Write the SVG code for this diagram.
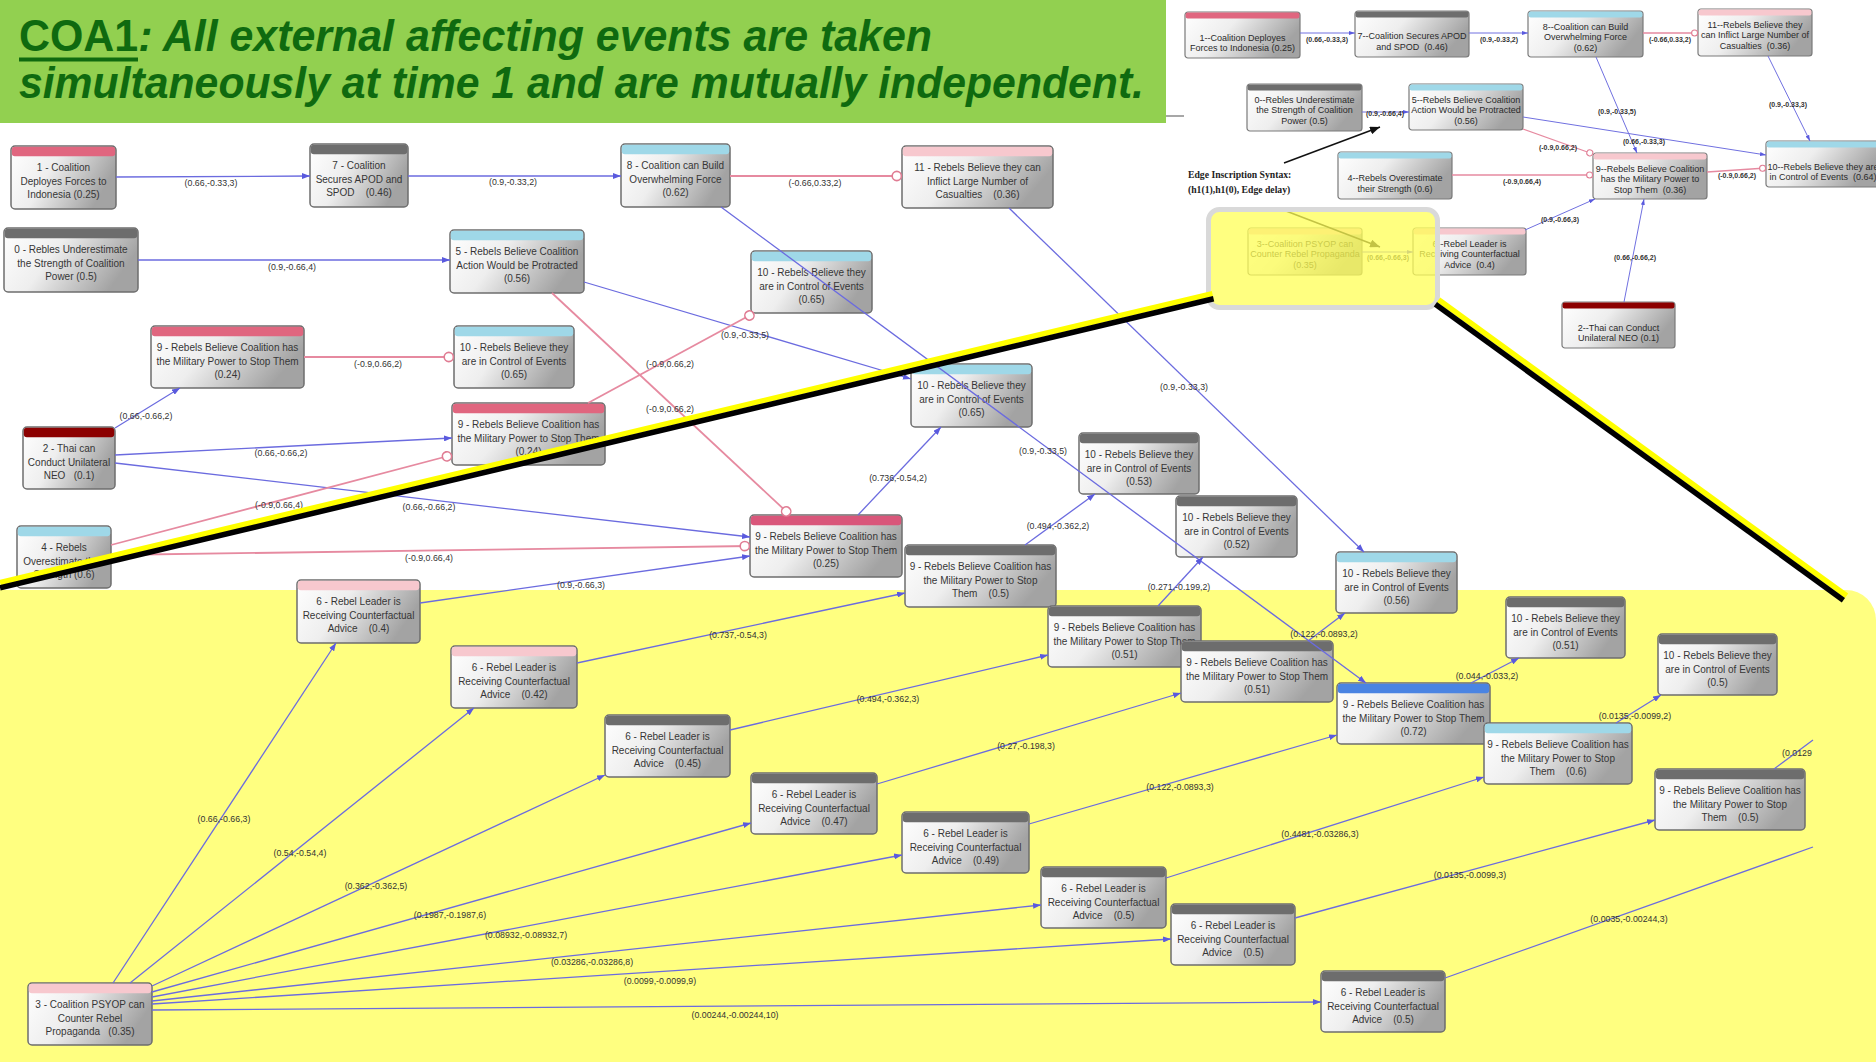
<svg xmlns="http://www.w3.org/2000/svg" width="1876" height="1062" viewBox="0 0 1876 1062">
<defs>
<linearGradient id="ng" x1="0" y1="0" x2="1" y2="0.35">
<stop offset="0" stop-color="#ffffff"/><stop offset="0.45" stop-color="#eeeeee"/><stop offset="1" stop-color="#a3a3a3"/>
</linearGradient>
<marker id="ar" viewBox="0 0 8 6" refX="8" refY="3" markerWidth="8" markerHeight="6" markerUnits="userSpaceOnUse" orient="auto"><path d="M0,0L8,3L0,6z" fill="#5a5ade"/></marker>
<marker id="ci" viewBox="0 0 12 12" refX="11.2" refY="6" markerWidth="12" markerHeight="12" markerUnits="userSpaceOnUse" orient="auto"><circle cx="6" cy="6" r="4.6" fill="#fff" stroke="#e07c93" stroke-width="1.6"/></marker>
<marker id="ars" viewBox="0 0 6 4" refX="6" refY="2" markerWidth="6" markerHeight="4" markerUnits="userSpaceOnUse" orient="auto"><path d="M0,0L6,2L0,4z" fill="#5a5ade"/></marker>
<marker id="cis" viewBox="0 0 8 8" refX="7.4" refY="4" markerWidth="8" markerHeight="8" markerUnits="userSpaceOnUse" orient="auto"><circle cx="4" cy="4" r="3" fill="#fff" stroke="#e07c93" stroke-width="1.1"/></marker>
<marker id="ak" viewBox="0 0 10 8" refX="10" refY="4" markerWidth="10" markerHeight="8" markerUnits="userSpaceOnUse" orient="auto"><path d="M0,0L10,4L0,8z" fill="#111"/></marker>
<style>
.nb{fill:url(#ng);stroke:#6e6e6e;stroke-width:1.5}
.ib{fill:url(#ng);stroke:#7a7a7a;stroke-width:1.2}
.pk{fill:#e0667f}
.pk2{fill:#d9567a}
.lp{fill:#f7c8ce}
.lb{fill:#9fd8e8}
.gy{fill:#6d6d6d}
.dr{fill:#8c0000}
.bl{fill:#4a84e2}
.nt{font-family:"Liberation Sans",Arial,sans-serif;font-size:10px;fill:#363636;text-anchor:middle}
.it{font-family:"Liberation Sans",Arial,sans-serif;font-size:9px;fill:#2a2a2a;text-anchor:middle}
.e{stroke:#6b6bdf;stroke-width:1.3;fill:none;marker-end:url(#ar)}
.en{stroke:#6b6bdf;stroke-width:1.3;fill:none}
.p{stroke:#e68aa0;stroke-width:1.8;fill:none;marker-end:url(#ci)}
.ie{stroke:#7070e0;stroke-width:1;fill:none;marker-end:url(#ars)}
.ip{stroke:#e68aa0;stroke-width:1.3;fill:none;marker-end:url(#cis)}
.lbl{font-family:"Liberation Sans",Arial,sans-serif;font-size:8.8px;fill:#333;text-anchor:middle}
.il{font-family:"Liberation Sans",Arial,sans-serif;font-size:7px;font-weight:bold;fill:#333;text-anchor:middle}
.an{font-family:"Liberation Serif","Times New Roman",serif;font-size:9.7px;font-weight:bold;fill:#222}
.tt{font-family:"Liberation Sans",Arial,sans-serif;font-size:45px;font-weight:bold;font-style:italic;fill:#0f6a0f}
</style>
</defs>

<rect width="1876" height="1062" fill="#ffffff"/>
<!-- highlighted lower area -->
<path d="M0,590H1846A30,30 0 0 1 1876,620V1062H0Z" fill="#ffff80"/>

<!-- main network nodes -->
<g id="main-nodes">
<g id="n1" transform="translate(11,146)"><rect class="nb" width="105" height="63" rx="4"/><rect class="pk" x="0.8" y="0.8" width="103.4" height="9.5" rx="3"/><text class="nt" x="52.5" y="25"><tspan>1 - Coalition</tspan><tspan x="52.5" dy="13.5">Deployes Forces to</tspan><tspan x="52.5" dy="13.5">Indonesia (0.25)</tspan></text></g>
<g id="n7" transform="translate(310,144)"><rect class="nb" width="98" height="63" rx="4"/><rect class="gy" x="0.8" y="0.8" width="96.4" height="9.5" rx="3"/><text class="nt" x="49" y="25"><tspan>7 - Coalition</tspan><tspan x="49" dy="13.5">Secures APOD and</tspan><tspan x="49" dy="13.5">SPOD&#160;&#160;&#160;&#160;(0.46)</tspan></text></g>
<g id="n8" transform="translate(621,144)"><rect class="nb" width="109" height="63" rx="4"/><rect class="lb" x="0.8" y="0.8" width="107.4" height="9.5" rx="3"/><text class="nt" x="54.5" y="25"><tspan>8 - Coalition can Build</tspan><tspan x="54.5" dy="13.5">Overwhelming Force</tspan><tspan x="54.5" dy="13.5">(0.62)</tspan></text></g>
<g id="n11" transform="translate(902,146)"><rect class="nb" width="151" height="62" rx="4"/><rect class="lp" x="0.8" y="0.8" width="149.4" height="9.5" rx="3"/><text class="nt" x="75.5" y="25"><tspan>11 - Rebels Believe they can</tspan><tspan x="75.5" dy="13.5">Inflict Large Number of</tspan><tspan x="75.5" dy="13.5">Casualties&#160;&#160;&#160;&#160;(0.36)</tspan></text></g>
<g id="n0" transform="translate(4,228)"><rect class="nb" width="134" height="64" rx="4"/><rect class="gy" x="0.8" y="0.8" width="132.4" height="9.5" rx="3"/><text class="nt" x="67" y="25"><tspan>0 - Rebles Underestimate</tspan><tspan x="67" dy="13.5">the Strength of Coalition</tspan><tspan x="67" dy="13.5">Power (0.5)</tspan></text></g>
<g id="n5" transform="translate(450,230)"><rect class="nb" width="134" height="63" rx="4"/><rect class="lb" x="0.8" y="0.8" width="132.4" height="9.5" rx="3"/><text class="nt" x="67" y="25"><tspan>5 - Rebels Believe Coalition</tspan><tspan x="67" dy="13.5">Action Would be Protracted</tspan><tspan x="67" dy="13.5">(0.56)</tspan></text></g>
<g id="n10a" transform="translate(751,251)"><rect class="nb" width="121" height="62" rx="4"/><rect class="lb" x="0.8" y="0.8" width="119.4" height="9.5" rx="3"/><text class="nt" x="60.5" y="25"><tspan>10 - Rebels Believe they</tspan><tspan x="60.5" dy="13.5">are in Control of Events</tspan><tspan x="60.5" dy="13.5">(0.65)</tspan></text></g>
<g id="n9a" transform="translate(151,326)"><rect class="nb" width="153" height="62" rx="4"/><rect class="pk" x="0.8" y="0.8" width="151.4" height="9.5" rx="3"/><text class="nt" x="76.5" y="25"><tspan>9 - Rebels Believe Coalition has</tspan><tspan x="76.5" dy="13.5">the Military Power to Stop Them</tspan><tspan x="76.5" dy="13.5">(0.24)</tspan></text></g>
<g id="n10b" transform="translate(454,326)"><rect class="nb" width="120" height="62" rx="4"/><rect class="lb" x="0.8" y="0.8" width="118.4" height="9.5" rx="3"/><text class="nt" x="60" y="25"><tspan>10 - Rebels Believe they</tspan><tspan x="60" dy="13.5">are in Control of Events</tspan><tspan x="60" dy="13.5">(0.65)</tspan></text></g>
<g id="n10c" transform="translate(911,364)"><rect class="nb" width="121" height="63" rx="4"/><rect class="lb" x="0.8" y="0.8" width="119.4" height="9.5" rx="3"/><text class="nt" x="60.5" y="25"><tspan>10 - Rebels Believe they</tspan><tspan x="60.5" dy="13.5">are in Control of Events</tspan><tspan x="60.5" dy="13.5">(0.65)</tspan></text></g>
<g id="n9b" transform="translate(452,403)"><rect class="nb" width="153" height="62" rx="4"/><rect class="pk" x="0.8" y="0.8" width="151.4" height="9.5" rx="3"/><text class="nt" x="76.5" y="25"><tspan>9 - Rebels Believe Coalition has</tspan><tspan x="76.5" dy="13.5">the Military Power to Stop Them</tspan><tspan x="76.5" dy="13.5">(0.24)</tspan></text></g>
<g id="n2" transform="translate(23,427)"><rect class="nb" width="92" height="62" rx="4"/><rect class="dr" x="0.8" y="0.8" width="90.4" height="9.5" rx="3"/><text class="nt" x="46" y="25"><tspan>2 - Thai can</tspan><tspan x="46" dy="13.5">Conduct Unilateral</tspan><tspan x="46" dy="13.5">NEO&#160;&#160;&#160;(0.1)</tspan></text></g>
<g id="n10d" transform="translate(1079,433)"><rect class="nb" width="120" height="61" rx="4"/><rect class="gy" x="0.8" y="0.8" width="118.4" height="9.5" rx="3"/><text class="nt" x="60" y="25"><tspan>10 - Rebels Believe they</tspan><tspan x="60" dy="13.5">are in Control of Events</tspan><tspan x="60" dy="13.5">(0.53)</tspan></text></g>
<g id="n10e" transform="translate(1176,496)"><rect class="nb" width="121" height="61" rx="4"/><rect class="gy" x="0.8" y="0.8" width="119.4" height="9.5" rx="3"/><text class="nt" x="60.5" y="25"><tspan>10 - Rebels Believe they</tspan><tspan x="60.5" dy="13.5">are in Control of Events</tspan><tspan x="60.5" dy="13.5">(0.52)</tspan></text></g>
<g id="n9c" transform="translate(750,515)"><rect class="nb" width="152" height="62" rx="4"/><rect class="pk2" x="0.8" y="0.8" width="150.4" height="9.5" rx="3"/><text class="nt" x="76" y="25"><tspan>9 - Rebels Believe Coalition has</tspan><tspan x="76" dy="13.5">the Military Power to Stop Them</tspan><tspan x="76" dy="13.5">(0.25)</tspan></text></g>
<g id="n4" transform="translate(17,526)"><rect class="nb" width="94" height="62" rx="4"/><rect class="lb" x="0.8" y="0.8" width="92.4" height="9.5" rx="3"/><text class="nt" x="47" y="25"><tspan>4 - Rebels</tspan><tspan x="47" dy="13.5">Overestimate their</tspan><tspan x="47" dy="13.5">Strength (0.6)</tspan></text></g>
<g id="n9d" transform="translate(905,545)"><rect class="nb" width="151" height="62" rx="4"/><rect class="gy" x="0.8" y="0.8" width="149.4" height="9.5" rx="3"/><text class="nt" x="75.5" y="25"><tspan>9 - Rebels Believe Coalition has</tspan><tspan x="75.5" dy="13.5">the Military Power to Stop</tspan><tspan x="75.5" dy="13.5">Them&#160;&#160;&#160;&#160;(0.5)</tspan></text></g>
<g id="n10f" transform="translate(1336,552)"><rect class="nb" width="121" height="61" rx="4"/><rect class="lb" x="0.8" y="0.8" width="119.4" height="9.5" rx="3"/><text class="nt" x="60.5" y="25"><tspan>10 - Rebels Believe they</tspan><tspan x="60.5" dy="13.5">are in Control of Events</tspan><tspan x="60.5" dy="13.5">(0.56)</tspan></text></g>
<g id="n6a" transform="translate(297,580)"><rect class="nb" width="123" height="63" rx="4"/><rect class="lp" x="0.8" y="0.8" width="121.4" height="9.5" rx="3"/><text class="nt" x="61.5" y="25"><tspan>6 - Rebel Leader is</tspan><tspan x="61.5" dy="13.5">Receiving Counterfactual</tspan><tspan x="61.5" dy="13.5">Advice&#160;&#160;&#160;&#160;(0.4)</tspan></text></g>
<g id="n10g" transform="translate(1506,597)"><rect class="nb" width="119" height="61" rx="4"/><rect class="gy" x="0.8" y="0.8" width="117.4" height="9.5" rx="3"/><text class="nt" x="59.5" y="25"><tspan>10 - Rebels Believe they</tspan><tspan x="59.5" dy="13.5">are in Control of Events</tspan><tspan x="59.5" dy="13.5">(0.51)</tspan></text></g>
<g id="n9e" transform="translate(1048,606)"><rect class="nb" width="153" height="61" rx="4"/><rect class="gy" x="0.8" y="0.8" width="151.4" height="9.5" rx="3"/><text class="nt" x="76.5" y="25"><tspan>9 - Rebels Believe Coalition has</tspan><tspan x="76.5" dy="13.5">the Military Power to Stop Them</tspan><tspan x="76.5" dy="13.5">(0.51)</tspan></text></g>
<g id="n10h" transform="translate(1658,634)"><rect class="nb" width="119" height="61" rx="4"/><rect class="gy" x="0.8" y="0.8" width="117.4" height="9.5" rx="3"/><text class="nt" x="59.5" y="25"><tspan>10 - Rebels Believe they</tspan><tspan x="59.5" dy="13.5">are in Control of Events</tspan><tspan x="59.5" dy="13.5">(0.5)</tspan></text></g>
<g id="n9f" transform="translate(1181,641)"><rect class="nb" width="152" height="61" rx="4"/><rect class="gy" x="0.8" y="0.8" width="150.4" height="9.5" rx="3"/><text class="nt" x="76" y="25"><tspan>9 - Rebels Believe Coalition has</tspan><tspan x="76" dy="13.5">the Military Power to Stop Them</tspan><tspan x="76" dy="13.5">(0.51)</tspan></text></g>
<g id="n6b" transform="translate(451,646)"><rect class="nb" width="126" height="62" rx="4"/><rect class="lp" x="0.8" y="0.8" width="124.4" height="9.5" rx="3"/><text class="nt" x="63" y="25"><tspan>6 - Rebel Leader is</tspan><tspan x="63" dy="13.5">Receiving Counterfactual</tspan><tspan x="63" dy="13.5">Advice&#160;&#160;&#160;&#160;(0.42)</tspan></text></g>
<g id="n9g" transform="translate(1337,683)"><rect class="nb" width="153" height="61" rx="4"/><rect class="bl" x="0.8" y="0.8" width="151.4" height="9.5" rx="3"/><text class="nt" x="76.5" y="25"><tspan>9 - Rebels Believe Coalition has</tspan><tspan x="76.5" dy="13.5">the Military Power to Stop Them</tspan><tspan x="76.5" dy="13.5">(0.72)</tspan></text></g>
<g id="n6c" transform="translate(605,715)"><rect class="nb" width="125" height="62" rx="4"/><rect class="gy" x="0.8" y="0.8" width="123.4" height="9.5" rx="3"/><text class="nt" x="62.5" y="25"><tspan>6 - Rebel Leader is</tspan><tspan x="62.5" dy="13.5">Receiving Counterfactual</tspan><tspan x="62.5" dy="13.5">Advice&#160;&#160;&#160;&#160;(0.45)</tspan></text></g>
<g id="n9h" transform="translate(1484,723)"><rect class="nb" width="148" height="61" rx="4"/><rect class="lb" x="0.8" y="0.8" width="146.4" height="9.5" rx="3"/><text class="nt" x="74" y="25"><tspan>9 - Rebels Believe Coalition has</tspan><tspan x="74" dy="13.5">the Military Power to Stop</tspan><tspan x="74" dy="13.5">Them&#160;&#160;&#160;&#160;(0.6)</tspan></text></g>
<g id="n9i" transform="translate(1655,769)"><rect class="nb" width="150" height="61" rx="4"/><rect class="gy" x="0.8" y="0.8" width="148.4" height="9.5" rx="3"/><text class="nt" x="75" y="25"><tspan>9 - Rebels Believe Coalition has</tspan><tspan x="75" dy="13.5">the Military Power to Stop</tspan><tspan x="75" dy="13.5">Them&#160;&#160;&#160;&#160;(0.5)</tspan></text></g>
<g id="n6d" transform="translate(751,773)"><rect class="nb" width="126" height="61" rx="4"/><rect class="gy" x="0.8" y="0.8" width="124.4" height="9.5" rx="3"/><text class="nt" x="63" y="25"><tspan>6 - Rebel Leader is</tspan><tspan x="63" dy="13.5">Receiving Counterfactual</tspan><tspan x="63" dy="13.5">Advice&#160;&#160;&#160;&#160;(0.47)</tspan></text></g>
<g id="n6e" transform="translate(902,812)"><rect class="nb" width="127" height="61" rx="4"/><rect class="gy" x="0.8" y="0.8" width="125.4" height="9.5" rx="3"/><text class="nt" x="63.5" y="25"><tspan>6 - Rebel Leader is</tspan><tspan x="63.5" dy="13.5">Receiving Counterfactual</tspan><tspan x="63.5" dy="13.5">Advice&#160;&#160;&#160;&#160;(0.49)</tspan></text></g>
<g id="n6f" transform="translate(1041,867)"><rect class="nb" width="125" height="61" rx="4"/><rect class="gy" x="0.8" y="0.8" width="123.4" height="9.5" rx="3"/><text class="nt" x="62.5" y="25"><tspan>6 - Rebel Leader is</tspan><tspan x="62.5" dy="13.5">Receiving Counterfactual</tspan><tspan x="62.5" dy="13.5">Advice&#160;&#160;&#160;&#160;(0.5)</tspan></text></g>
<g id="n6g" transform="translate(1171,904)"><rect class="nb" width="124" height="61" rx="4"/><rect class="gy" x="0.8" y="0.8" width="122.4" height="9.5" rx="3"/><text class="nt" x="62" y="25"><tspan>6 - Rebel Leader is</tspan><tspan x="62" dy="13.5">Receiving Counterfactual</tspan><tspan x="62" dy="13.5">Advice&#160;&#160;&#160;&#160;(0.5)</tspan></text></g>
<g id="n6h" transform="translate(1321,971)"><rect class="nb" width="124" height="61" rx="4"/><rect class="gy" x="0.8" y="0.8" width="122.4" height="9.5" rx="3"/><text class="nt" x="62" y="25"><tspan>6 - Rebel Leader is</tspan><tspan x="62" dy="13.5">Receiving Counterfactual</tspan><tspan x="62" dy="13.5">Advice&#160;&#160;&#160;&#160;(0.5)</tspan></text></g>
<g id="n3" transform="translate(28,983)"><rect class="nb" width="124" height="62" rx="4"/><rect class="lp" x="0.8" y="0.8" width="122.4" height="9.5" rx="3"/><text class="nt" x="62" y="25"><tspan>3 - Coalition PSYOP can</tspan><tspan x="62" dy="13.5">Counter Rebel</tspan><tspan x="62" dy="13.5">Propaganda&#160;&#160;&#160;(0.35)</tspan></text></g>
</g>

<!-- main network connectors -->
<g id="main-edges">
<path class="e" d="M116,177L310,176"/>
<path class="e" d="M408,176L621,176"/>
<path class="p" d="M730,176L902,176"/>
<path class="e" d="M138,260L450,260"/>
<path class="p" d="M304,357L454,357"/>
<path class="e" d="M115,428L180,388"/>
<path class="e" d="M115,455L452,438"/>
<path class="e" d="M115,463L750,537"/>
<path class="p" d="M111,545L452,455"/>
<path class="p" d="M111,555L750,546"/>
<path class="p" d="M552,293L790,515"/>
<path class="e" d="M584,282L911,379"/>
<path class="p" d="M588,403L754,313"/>
<path class="e" d="M721,207L1366,683"/>
<path class="e" d="M1009,208L1364,552"/>
<path class="e" d="M858,515L941,427"/>
<path class="e" d="M1025,545L1095,494"/>
<path class="e" d="M420,603L750,556"/>
<path class="e" d="M577,663L905,593"/>
<path class="e" d="M1158,606L1203,557"/>
<path class="e" d="M1308,641L1345,613"/>
<path class="e" d="M1471,683L1519,658"/>
<path class="e" d="M1616,723L1661,695"/>
<path class="en" d="M1774,769L1813,740"/>
<path class="e" d="M730,730L1048,655"/>
<path class="e" d="M877,784L1181,693"/>
<path class="e" d="M1029,824L1337,735"/>
<path class="e" d="M1166,878L1484,777"/>
<path class="e" d="M1295,918L1655,820"/>
<path class="en" d="M1445,978L1813,847"/>
<path class="e" d="M113,983L336,643"/>
<path class="e" d="M130,983L474,708"/>
<path class="e" d="M152,986L605,775"/>
<path class="e" d="M152,992L751,823"/>
<path class="e" d="M152,997L902,855"/>
<path class="e" d="M152,1001L1041,905"/>
<path class="e" d="M152,1004L1171,939"/>
<path class="e" d="M152,1010L1321,1002"/>
<g>
<text class="lbl" x="211" y="186">(0.66,-0.33,3)</text>
<text class="lbl" x="513" y="185">(0.9,-0.33,2)</text>
<text class="lbl" x="815" y="186">(-0.66,0.33,2)</text>
<text class="lbl" x="292" y="270">(0.9,-0.66,4)</text>
<text class="lbl" x="378" y="367">(-0.9,0.66,2)</text>
<text class="lbl" x="146" y="419">(0.66,-0.66,2)</text>
<text class="lbl" x="281" y="456">(0.66,-0.66,2)</text>
<text class="lbl" x="429" y="510">(0.66,-0.66,2)</text>
<text class="lbl" x="279" y="508">(-0.9,0.66,4)</text>
<text class="lbl" x="429" y="561">(-0.9,0.66,4)</text>
<text class="lbl" x="670" y="412">(-0.9,0.66,2)</text>
<text class="lbl" x="745" y="338">(0.9,-0.33,5)</text>
<text class="lbl" x="670" y="367">(-0.9,0.66,2)</text>
<text class="lbl" x="1043" y="454">(0.9,-0.33,5)</text>
<text class="lbl" x="1184" y="390">(0.9,-0.33,3)</text>
<text class="lbl" x="898" y="481">(0.736,-0.54,2)</text>
<text class="lbl" x="1058" y="529">(0.494,-0.362,2)</text>
<text class="lbl" x="581" y="588">(0.9,-0.66,3)</text>
<text class="lbl" x="738" y="638">(0.737,-0.54,3)</text>
<text class="lbl" x="1179" y="590">(0.271,-0.199,2)</text>
<text class="lbl" x="1324" y="637">(0.122,-0.0893,2)</text>
<text class="lbl" x="1487" y="679">(0.044,-0.033,2)</text>
<text class="lbl" x="1635" y="719">(0.0135,-0.0099,2)</text>
<text class="lbl" x="1782" y="756" style="text-anchor:start">(0.0129</text>
<text class="lbl" x="888" y="702">(0.494,-0.362,3)</text>
<text class="lbl" x="1026" y="749">(0.27,-0.198,3)</text>
<text class="lbl" x="1180" y="790">(0.122,-0.0893,3)</text>
<text class="lbl" x="1320" y="837">(0.4481,-0.03286,3)</text>
<text class="lbl" x="1470" y="878">(0.0135,-0.0099,3)</text>
<text class="lbl" x="1629" y="922">(0.0035,-0.00244,3)</text>
<text class="lbl" x="224" y="822">(0.66,-0.66,3)</text>
<text class="lbl" x="300" y="856">(0.54,-0.54,4)</text>
<text class="lbl" x="376" y="889">(0.362,-0.362,5)</text>
<text class="lbl" x="450" y="918">(0.1987,-0.1987,6)</text>
<text class="lbl" x="526" y="938">(0.08932,-0.08932,7)</text>
<text class="lbl" x="592" y="965">(0.03286,-0.03286,8)</text>
<text class="lbl" x="660" y="984">(0.0099,-0.0099,9)</text>
<text class="lbl" x="735" y="1018">(0.00244,-0.00244,10)</text>
</g>
</g>

<!-- title banner -->
<g id="title">
<rect x="0" y="0" width="1166" height="123" fill="#92d050"/>
<line x1="1166" y1="116" x2="1184" y2="116" stroke="#8a8a8a" stroke-width="1.5"/>
<text class="tt" x="19" y="51" textLength="913" lengthAdjust="spacingAndGlyphs"><tspan font-style="normal">COA1</tspan>: All external affecting events are taken</text>
<rect x="19" y="57.5" width="119" height="4" fill="#0f6a0f"/>
<text class="tt" x="19" y="98" textLength="1125" lengthAdjust="spacingAndGlyphs">simultaneously at time 1 and are mutually independent.</text>
</g>

<!-- overview network nodes -->
<g id="overview-nodes">
<g id="i1" transform="translate(1185,12)"><rect class="ib" width="115" height="46" rx="3"/><rect class="pk" x="0.6" y="0.6" width="113.8" height="6" rx="2"/><text class="it" x="57.5" y="28.5"><tspan>1--Coalition Deployes</tspan><tspan x="57.5" dy="10.5">Forces to Indonesia (0.25)</tspan></text></g>
<g id="i7" transform="translate(1355,11)"><rect class="ib" width="114" height="46" rx="3"/><rect class="gy" x="0.6" y="0.6" width="112.8" height="6" rx="2"/><text class="it" x="57" y="28"><tspan>7--Coalition Secures APOD</tspan><tspan x="57" dy="10.5">and SPOD&#160;&#160;(0.46)</tspan></text></g>
<g id="i8" transform="translate(1528,11)"><rect class="ib" width="115" height="46" rx="3"/><rect class="lb" x="0.6" y="0.6" width="113.8" height="6" rx="2"/><text class="it" x="57.5" y="18.5"><tspan>8--Coalition can Build</tspan><tspan x="57.5" dy="10.5">Overwhelming Force</tspan><tspan x="57.5" dy="10.5">(0.62)</tspan></text></g>
<g id="i11" transform="translate(1698,9)"><rect class="ib" width="114" height="47" rx="3"/><rect class="lp" x="0.6" y="0.6" width="112.8" height="6" rx="2"/><text class="it" x="57" y="18.5"><tspan>11--Rebels Believe they</tspan><tspan x="57" dy="10.5">can Inflict Large Number of</tspan><tspan x="57" dy="10.5">Casualties&#160;&#160;(0.36)</tspan></text></g>
<g id="i0" transform="translate(1247,84)"><rect class="ib" width="115" height="47" rx="3"/><rect class="gy" x="0.6" y="0.6" width="113.8" height="6" rx="2"/><text class="it" x="57.5" y="18.5"><tspan>0--Rebles Underestimate</tspan><tspan x="57.5" dy="10.5">the Strength of Coalition</tspan><tspan x="57.5" dy="10.5">Power (0.5)</tspan></text></g>
<g id="i5" transform="translate(1409,84)"><rect class="ib" width="114" height="46" rx="3"/><rect class="lb" x="0.6" y="0.6" width="112.8" height="6" rx="2"/><text class="it" x="57" y="18.5"><tspan>5--Rebels Believe Coalition</tspan><tspan x="57" dy="10.5">Action Would be Protracted</tspan><tspan x="57" dy="10.5">(0.56)</tspan></text></g>
<g id="i4" transform="translate(1338,152)"><rect class="ib" width="114" height="47" rx="3"/><rect class="lb" x="0.6" y="0.6" width="112.8" height="6" rx="2"/><text class="it" x="57" y="29"><tspan>4--Rebels Overestimate</tspan><tspan x="57" dy="10.5">their Strength (0.6)</tspan></text></g>
<g id="i9" transform="translate(1593,153)"><rect class="ib" width="114" height="46" rx="3"/><rect class="lp" x="0.6" y="0.6" width="112.8" height="6" rx="2"/><text class="it" x="57" y="18.5"><tspan>9--Rebels Believe Coalition</tspan><tspan x="57" dy="10.5">has the Military Power to</tspan><tspan x="57" dy="10.5">Stop Them&#160;&#160;(0.36)</tspan></text></g>
<g id="i10" transform="translate(1766,141)"><rect class="ib" width="114" height="46" rx="3"/><rect class="lb" x="0.6" y="0.6" width="112.8" height="6" rx="2"/><text class="it" x="57" y="28.5"><tspan>10--Rebels Believe they are</tspan><tspan x="57" dy="10.5">in Control of Events&#160;&#160;(0.64)</tspan></text></g>
<g id="i3" transform="translate(1248,228)"><rect class="ib" width="114" height="47" rx="3"/><rect class="lp" x="0.6" y="0.6" width="112.8" height="6" rx="2"/><text class="it" x="57" y="18.5"><tspan>3--Coalition PSYOP can</tspan><tspan x="57" dy="10.5">Counter Rebel Propaganda</tspan><tspan x="57" dy="10.5">(0.35)</tspan></text></g>
<g id="i6" transform="translate(1413,228)"><rect class="ib" width="113" height="47" rx="3"/><rect class="lp" x="0.6" y="0.6" width="111.8" height="6" rx="2"/><text class="it" x="56.5" y="18.5"><tspan>6--Rebel Leader is</tspan><tspan x="56.5" dy="10.5">Receiving Counterfactual</tspan><tspan x="56.5" dy="10.5">Advice&#160;&#160;(0.4)</tspan></text></g>
<g id="i2" transform="translate(1562,302)"><rect class="ib" width="113" height="46" rx="3"/><rect class="dr" x="0.6" y="0.6" width="111.8" height="6" rx="2"/><text class="it" x="56.5" y="28.5"><tspan>2--Thai can Conduct</tspan><tspan x="56.5" dy="10.5">Unilateral NEO (0.1)</tspan></text></g>
</g>

<!-- overview network connectors -->
<g id="overview-edges">
<path class="ie" d="M1300,33L1355,33"/>
<path class="ie" d="M1469,33L1528,33"/>
<path class="ip" d="M1643,33L1698,33"/>
<path class="ie" d="M1362,112L1409,112"/>
<path class="ie" d="M1596,57L1637,153"/>
<path class="ie" d="M1768,56L1810,141"/>
<path class="ie" d="M1523,117L1766,155"/>
<path class="ip" d="M1523,129L1593,154"/>
<path class="ip" d="M1452,175L1593,175"/>
<path class="ip" d="M1707,172L1766,168"/>
<path class="ie" d="M1525,230L1595,199"/>
<path class="ie" d="M1624,302L1644,199"/>
<path class="ie" d="M1362,252L1413,252"/>
<text class="il" x="1327" y="42">(0.66,-0.33,3)</text>
<text class="il" x="1499" y="42">(0.9,-0.33,2)</text>
<text class="il" x="1670" y="42">(-0.66,0.33,2)</text>
<text class="il" x="1385" y="116">(0.9,-0.66,4)</text>
<text class="il" x="1617" y="114">(0.9,-0.33,5)</text>
<text class="il" x="1788" y="107">(0.9,-0.33,3)</text>
<text class="il" x="1644" y="144">(0.66,-0.33,3)</text>
<text class="il" x="1558" y="150">(-0.9,0.66,2)</text>
<text class="il" x="1522" y="184">(-0.9,0.66,4)</text>
<text class="il" x="1737" y="178">(-0.9,0.66,2)</text>
<text class="il" x="1560" y="222">(0.9,-0.66,3)</text>
<text class="il" x="1635" y="260">(0.66,-0.66,2)</text>
<text class="il" x="1388" y="260">(0.66,-0.66,3)</text>
</g>

<!-- legend note -->
<g id="syntax-note">
<text class="an" x="1188" y="178">Edge Inscription Syntax:</text>
<text class="an" x="1188" y="193">(h1(1),h1(0), Edge delay)</text>
<path d="M1284,163L1380,127" stroke="#111" stroke-width="1.5" fill="none" marker-end="url(#ak)"/>
<path d="M1286,211L1380,247" stroke="#111" stroke-width="1.5" fill="none" marker-end="url(#ak)"/>
</g>

<!-- highlight over the PSYOP pair -->
<rect id="highlight" x="1208.5" y="209.5" width="229" height="98" rx="11" fill="#ffff55" fill-opacity="0.75" stroke="#d9d9d9" stroke-width="5"/>

<!-- zoom pointer lines -->
<g id="pointers">
<line x1="0" y1="582.6" x2="1212.4" y2="293.6" stroke="#ffff00" stroke-width="5.5"/>
<line x1="0" y1="587.8" x2="1213.6" y2="298.8" stroke="#000" stroke-width="5.5"/>
<line x1="1438.6" y1="299.8" x2="1846.6" y2="595.8" stroke="#ffff00" stroke-width="5.5"/>
<line x1="1435.4" y1="304.2" x2="1843.4" y2="600.2" stroke="#000" stroke-width="5.5"/>
</g>
</svg>
